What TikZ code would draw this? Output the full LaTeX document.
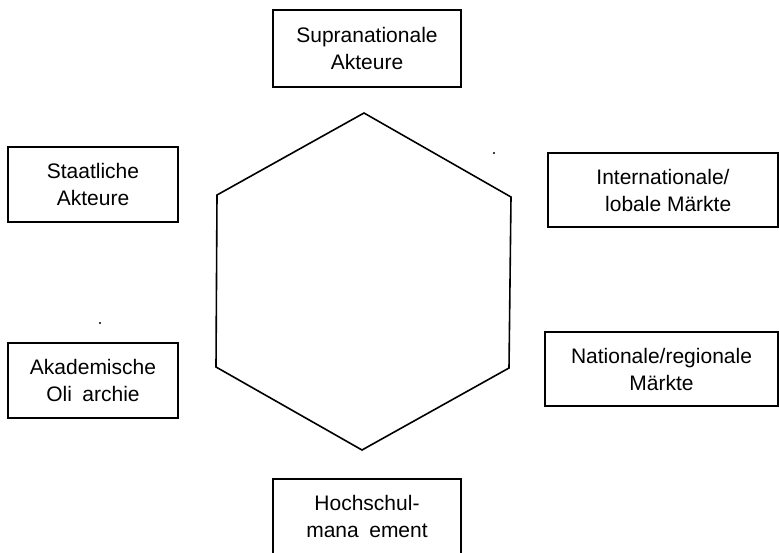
\documentclass[tikz,border=0pt]{standalone}
\usepackage{fontspec}
\setmainfont{Liberation Sans}
\usepackage{tikz}
\tikzset{akteur/.style={draw, line width=1.6pt, inner sep=0pt, align=center,
    font=\fontsize{21}{27}\selectfont}}

\begin{document}
\begin{tikzpicture}[x=1pt, y=-1pt]
			%%%%% START %%%%%
			\clip (0, 0) rectangle (779, 552);
			
			\draw[line width=1.6pt] (364, 113) -- (511, 197) -- (509, 368) -- (362, 450) -- (216, 367) -- (217, 195) -- cycle;
			
			\node[akteur, minimum width=188pt, minimum height=77pt] (supra) at (367, 48.5) {Supranationale\\Akteure};
			\node[akteur, minimum width=170pt, minimum height=75pt] (staat) at (93, 184.5) {Staatliche\\Akteure};
			\node[akteur, minimum width=170pt, minimum height=75pt] (akad) at (93, 380.5) {Akademische\\Oli\enspace archie};
			\node[akteur, minimum width=230pt, minimum height=74pt] (intl) at (663, 190) {Internationale/\\\enspace lobale Märkte};
			\node[akteur, minimum width=233pt, minimum height=74pt] (natl) at (661.5, 369) {Nationale/regionale\\Märkte};
			\node[akteur, minimum width=188pt, minimum height=75pt] (hsm) at (367, 516.5) {Hochschul-\\mana\enspace ement};
			
			\fill (494, 153) circle (1.2);
			\fill (100, 323) circle (1.2);
			%%%%% END %%%%%
		\end{tikzpicture}
\end{document}
